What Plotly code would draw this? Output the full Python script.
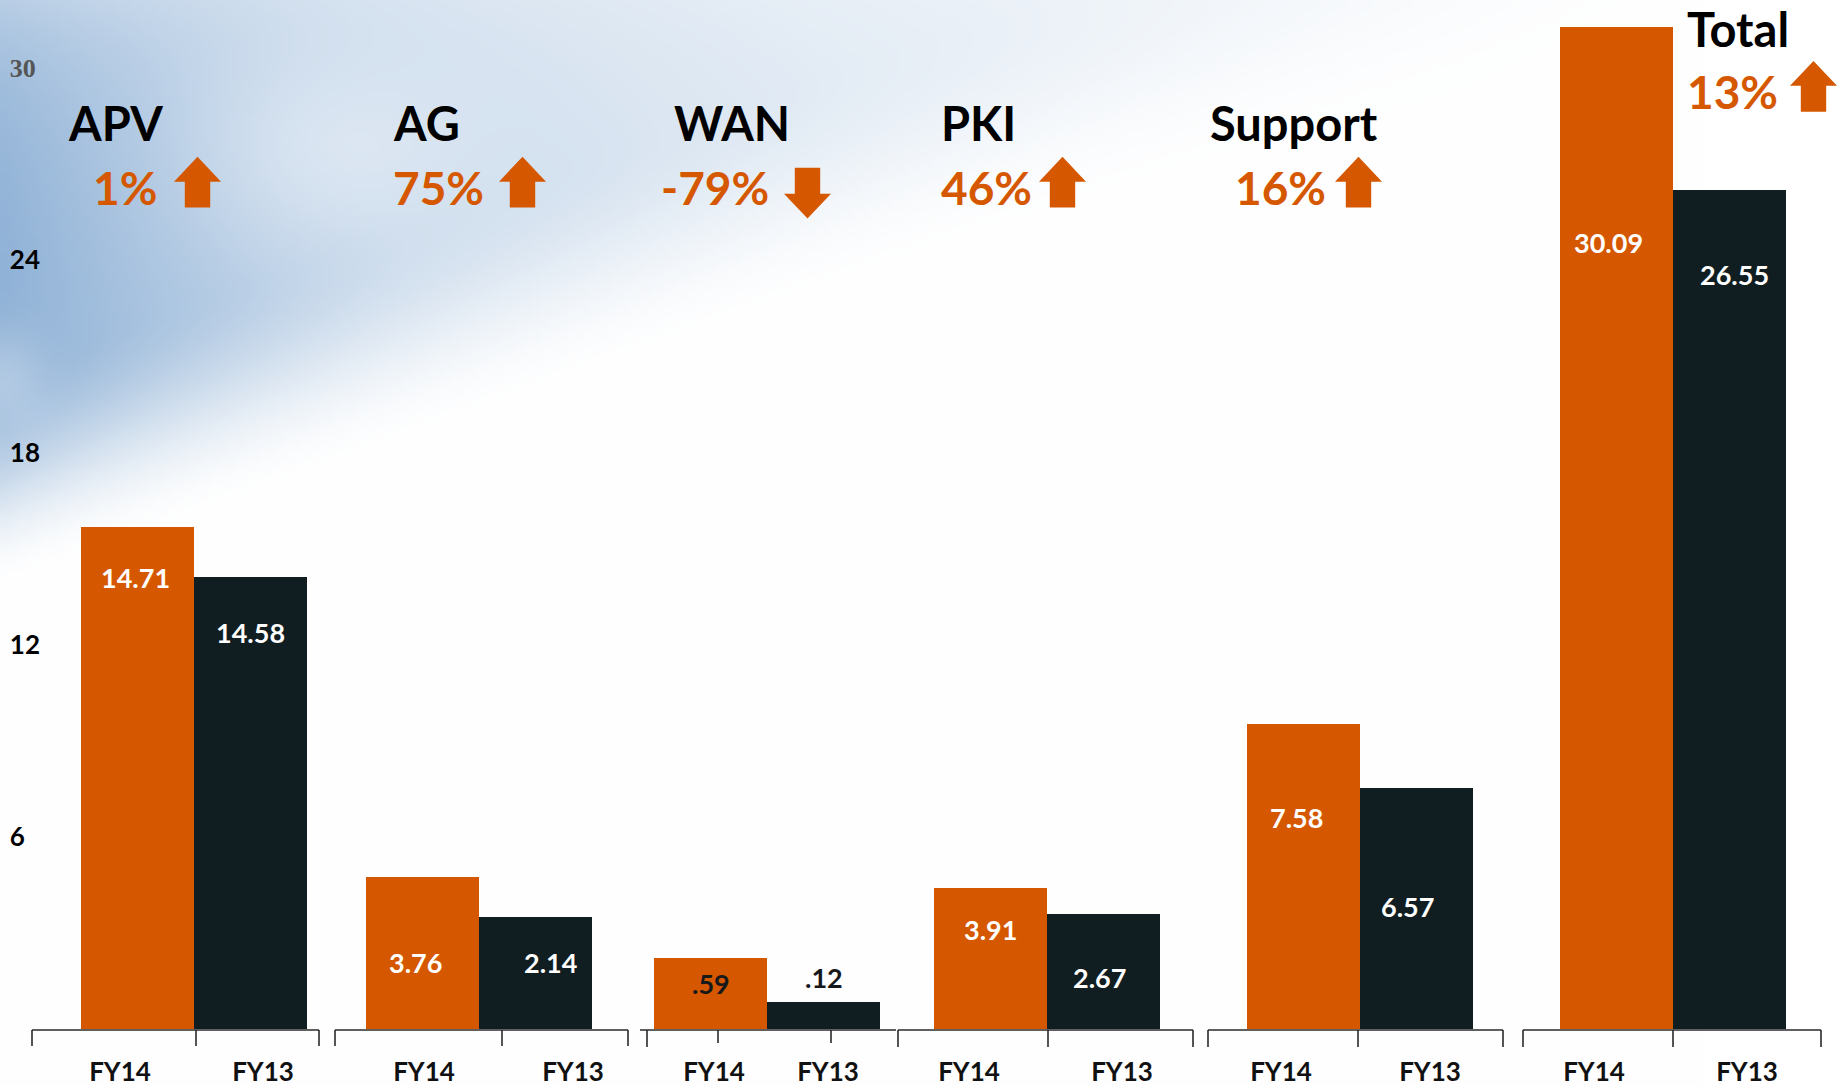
import base64
import struct
import zlib

import numpy as np
import plotly.graph_objects as go

# ---------------- data ----------------
segments = ["APV", "AG", "WAN", "PKI", "Support", "Total"]
years = ["FY14", "FY13"]
# printed value labels
fy14_text = ["14.71", "3.76", ".59", "3.91", "7.58", "30.09"]
fy13_text = ["14.58", "2.14", ".12", "2.67", "6.57", "26.55"]
# bar heights as drawn against the left axis (the chart is not to scale)
fy14_height = [15.66, 4.76, 2.23, 4.39, 9.51, 31.3]
fy13_height = [14.12, 3.51, 0.84, 3.58, 7.54, 26.2]
change_pct = ["1%", "75%", "-79%", "46%", "16%", "13%"]
y_tick_values = [6, 12, 18, 24, 30]

# ---------------- layout constants (pixels of the 1841x1087 page) ----------------
W, H = 1841, 1087
BASE = 1031                      # baseline pixel row
PX_PER_UNIT = 32.09
ORANGE = "#D55800"
DARK = "#101D21"
FONT = "Lato"

pair_boundary = [194, 479, 767, 1047, 1360, 1673]   # x where FY14 and FY13 bars meet
BAR_W = 113

label_y = [(14.09, 12.37), (2.09, 2.09), (1.43, 1.61), (3.11, 1.61), (6.59, 3.81), (24.55, 23.56)]
label_dx = [(-2, 0), (-7, 15), (0, 0), (0, -4), (-7, -9), (-8, 5)]
label_dark = [False, False, True, False, False, False]

fy_tick_x = [120, 263, 424, 573, 714, 828, 969, 1122, 1281, 1430, 1594, 1747]
brackets = [  # (line x0, line x1, [(tick x, tick len)])
    (32, 319, [(32, 16), (196, 16), (319, 16)]),
    (335, 628, [(335, 16), (502, 16), (628, 16)]),
    (640, 896, [(647, 17), (718, 13), (831, 13)]),
    (898, 1193, [(898, 17), (1048, 17), (1193, 17)]),
    (1208, 1503, [(1208, 17), (1358, 17), (1503, 17)]),
    (1523, 1821, [(1523, 17), (1673, 17), (1821, 17)]),
]
head_pos = [  # (name x, name y, pct x, pct y, arrow x)
    (66, 123, 91, 188, 174),
    (391, 123, 391, 188, 499),
    (672, 123, 659, 188, 784),
    (939, 123, 939, 188, 1039),
    (1208, 123, 1233, 188, 1335),
    (1685, 29, 1685, 92, 1790),
]


def py(pix):
    """page pixel row -> paper y of the plot area"""
    return (BASE - pix) / BASE


# ---------------- background (sky) ----------------
def sky_png():
    w, h = 368, 217
    xs = (np.arange(w) + 0.5) * W / w
    ys = (np.arange(h) + 0.5) * H / h
    X, Y = np.meshgrid(xs, ys)
    d = 1 - (X / 1650 + Y / 590)
    t = np.clip(d / 0.38, 0, 1)
    t = t * t * (3 - 2 * t)
    strength = 0.12 + 0.88 * np.exp(-X / 480)
    inten = t * strength
    blob = np.exp(-(((X - 330) / 150) ** 2 + ((Y - 150) / 110) ** 2))
    inten = inten * (1 - 0.4 * blob)
    blob2 = np.exp(-(((X - 0) / 45) ** 2 + ((Y - 380) / 50) ** 2))
    inten = inten * (1 - 0.3 * blob2)
    inten = inten * (1 - 0.55 * np.exp(-Y / 100))
    haze = 0.14 * np.exp(-Y / 90) * np.clip(1 - X / 1700, 0, 1)
    inten = np.clip(inten * 0.88 + haze, 0, 1)
    blue = np.array([125, 165, 208], float)
    img = 255 - inten[..., None] * (255 - blue)
    img = np.clip(img, 0, 255).astype(np.uint8)
    raw = b"".join(b"\x00" + img[r].tobytes() for r in range(h))

    def chunk(tag, data):
        c = struct.pack(">I", len(data)) + tag + data
        return c + struct.pack(">I", zlib.crc32(tag + data) & 0xFFFFFFFF)

    png = (b"\x89PNG\r\n\x1a\n"
           + chunk(b"IHDR", struct.pack(">IIBBBBB", w, h, 8, 2, 0, 0, 0))
           + chunk(b"IDAT", zlib.compress(raw, 9))
           + chunk(b"IEND", b""))
    return "data:image/png;base64," + base64.b64encode(png).decode()


# ---------------- figure ----------------
x14 = [b - BAR_W / 2 for b in pair_boundary]
x13 = [b + BAR_W / 2 for b in pair_boundary]

fig = go.Figure()
fig.add_bar(x=x14, y=fy14_height, width=BAR_W, marker=dict(color=ORANGE, line=dict(width=0)),
            name=years[0], hoverinfo="skip", showlegend=False)
fig.add_bar(x=x13, y=fy13_height, width=BAR_W, marker=dict(color=DARK, line=dict(width=0)),
            name=years[1], hoverinfo="skip", showlegend=False)

ann = []
shapes = []
for i, seg in enumerate(segments):
    # value labels
    col = "#16181a" if label_dark[i] else "white"
    for xc, txt, yy, dx in ((x14[i], fy14_text[i], label_y[i][0], label_dx[i][0]),
                            (x13[i], fy13_text[i], label_y[i][1], label_dx[i][1])):
        ann.append(dict(x=xc, y=yy, xref="x", yref="y", text=txt, showarrow=False, xshift=dx,
                        font=dict(family=FONT, size=27, color=col, weight="bold")))
    # headers
    nx, ny, px_, pyy, ax = head_pos[i]
    ann.append(dict(x=nx, y=py(ny), xref="x", yref="paper", text=seg, showarrow=False,
                    xanchor="left", yanchor="middle",
                    font=dict(family=FONT, size=47, color="black", weight="bold")))
    ann.append(dict(x=px_, y=py(pyy), xref="x", yref="paper", text=change_pct[i], showarrow=False,
                    xanchor="left", yanchor="middle",
                    font=dict(family=FONT, size=46, color=ORANGE, weight="bold")))
    # arrow
    aw = 47
    up = not change_pct[i].startswith("-")
    if up:
        top, bot = pyy - 31, pyy + 20
        tip, base_, headline = top, bot, top + 0.49 * (bot - top)
    else:
        top, bot = pyy - 20, pyy + 31
        tip, base_, headline = bot, top, bot - 0.49 * (bot - top)
    xc = ax + aw / 2
    sw = 0.27 * aw
    pts = [(xc, tip), (ax + aw, headline), (xc + sw, headline), (xc + sw, base_),
           (xc - sw, base_), (xc - sw, headline), (ax, headline)]
    path = "M " + " L ".join(f"{x:.1f},{py(y):.5f}" for x, y in pts) + " Z"
    shapes.append(dict(type="path", path=path, xref="x", yref="paper",
                       fillcolor=ORANGE, line=dict(width=0)))
    # bracket under the group
    x0, x1, ticks = brackets[i]
    shapes.append(dict(type="line", x0=x0, x1=x1, y0=py(BASE + 1), y1=py(BASE + 1),
                       xref="x", yref="paper", line=dict(color="#2a2a2a", width=1.6)))
    for tx, tl in ticks:
        shapes.append(dict(type="line", x0=tx, x1=tx, y0=py(BASE + 1), y1=py(BASE + 1 + tl),
                           xref="x", yref="paper", line=dict(color="#2a2a2a", width=1.6)))

tick_text = []
for v in y_tick_values:
    if v == 30:
        tick_text.append(f'<span style="font-family:Liberation Serif;color:#555555">{v}</span>')
    else:
        tick_text.append(str(v))

fig.update_layout(
    width=W, height=H,
    margin=dict(l=0, r=0, t=0, b=H - BASE),
    paper_bgcolor="white", plot_bgcolor="rgba(0,0,0,0)",
    barmode="overlay", bargap=0,
    annotations=ann, shapes=shapes,
    images=[dict(source=sky_png(), xref="paper", yref="paper", x=0, y=1,
                 sizex=1, sizey=H / BASE, xanchor="left", yanchor="top",
                 sizing="stretch", layer="below")],
    xaxis=dict(range=[0, W], showgrid=False, zeroline=False, showline=False,
               tickmode="array", tickvals=fy_tick_x, ticktext=years * len(segments),
               ticks="outside", ticklen=20, tickcolor="rgba(0,0,0,0)",
               tickfont=dict(family=FONT, size=26, color="#111111", weight="bold"),
               fixedrange=True),
    yaxis=dict(range=[0, BASE / PX_PER_UNIT], showgrid=False, zeroline=False, showline=False,
               tickmode="array", tickvals=y_tick_values, ticktext=tick_text,
               ticklabelposition="inside", ticks="inside", ticklen=12,
               tickcolor="rgba(0,0,0,0)",
               tickfont=dict(family=FONT, size=26, color="black", weight="bold"),
               fixedrange=True),
)

fig.write_html("out.html", config={"displayModeBar": False},
               post_script="document.body.style.margin='0';document.body.style.overflow='hidden';")
